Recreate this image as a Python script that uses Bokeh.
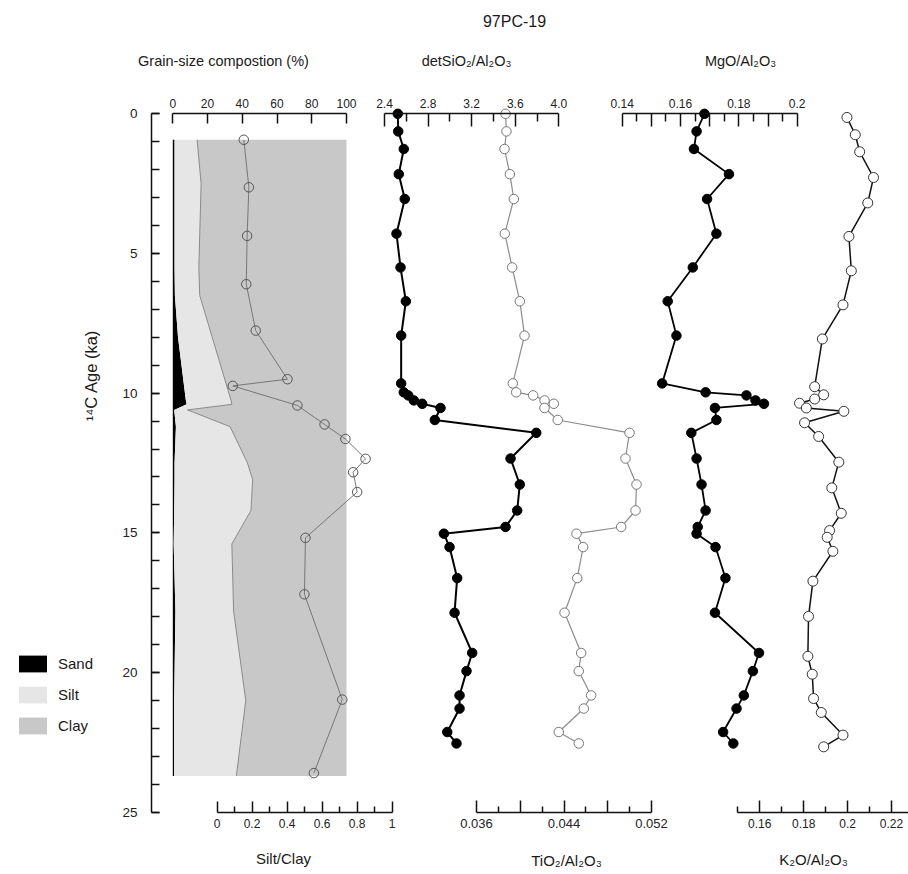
import math
from bokeh.plotting import figure
from bokeh.models import Range1d, LinearAxis, FixedTicker, Label, Legend, LegendItem
from bokeh.embed import file_html
from bokeh.resources import INLINE

W, H = 908, 874
FONT = "Liberation Sans"

# ---------------- data ----------------
# Grain-size composition (%) of core 97PC-19
grain_age = [0.93, 2.5, 5.5, 6.5, 8.0, 10.25, 10.4, 10.6, 11.2, 12.5, 13.1, 14.2, 15.4, 17.8, 21.0, 23.7]
sand_pct = [1.0, 1.0, 1.0, 1.2, 3.0, 7.5, 8.0, 0.8, 1.8, 1.0, 1.0, 0.8, 0.5, 1.5, 0.8, 0.8]
silt_pct = [13.0, 15.3, 14.0, 14.3, 19.7, 26.0, 26.0, 7.7, 31.2, 42.0, 45.0, 44.2, 33.5, 33.5, 41.2, 35.8]
clay_pct = [86.0, 83.7, 85.0, 84.5, 77.3, 66.5, 66.0, 91.5, 67.0, 57.0, 54.0, 55.0, 66.0, 65.0, 58.0, 63.4]

# Silt/Clay ratio
siltclay_age = [0.93, 2.63, 4.37, 6.1, 7.76, 9.5, 9.74, 10.44, 11.12, 11.64, 12.35, 12.83, 13.54, 15.18, 17.2, 20.97, 23.6]
siltclay = [0.153, 0.182, 0.172, 0.167, 0.221, 0.402, 0.090, 0.459, 0.614, 0.733, 0.848, 0.777, 0.800, 0.505, 0.499, 0.715, 0.553]

# Geochemical ratios (common sample ages)
geo_age = [0.0, 0.63, 1.26, 2.16, 3.05, 4.29, 5.5, 6.71, 7.94, 9.65, 9.97, 10.08, 10.26, 10.38, 10.53,
           10.96, 11.42, 12.34, 13.27, 14.2, 14.79, 15.03, 15.51, 16.62, 17.86, 19.3, 19.95, 20.82,
           21.29, 22.13, 22.54]
det_sio2 = [2.522, 2.526, 2.577, 2.531, 2.586, 2.510, 2.547, 2.596, 2.553, 2.553, 2.577, 2.618, 2.669,
            2.746, 2.914, 2.862, 3.793, 3.557, 3.642, 3.618, 3.511, 2.945, 2.997, 3.067, 3.043, 3.205,
            3.153, 3.089, 3.089, 2.976, 3.061]
tio2 = [0.03865, 0.03874, 0.03856, 0.03905, 0.03941, 0.03859, 0.03926, 0.03996, 0.04039, 0.03932,
        0.03963, 0.04118, 0.04222, 0.04307, 0.04222, 0.04343, 0.04999, 0.04962, 0.05063, 0.05054,
        0.04923, 0.04514, 0.04575, 0.04521, 0.04405, 0.04557, 0.04535, 0.04648, 0.04581, 0.04352,
        0.04535]
mgo = [0.1682, 0.1655, 0.1646, 0.1766, 0.1691, 0.1723, 0.1642, 0.1556, 0.1586, 0.1537, 0.1686,
       0.1826, 0.1857, 0.1886, 0.1718, 0.1723, 0.1637, 0.1655, 0.1672, 0.1686, 0.1659, 0.1655,
       0.1720, 0.1754, 0.1718, 0.1869, 0.1848, 0.1817, 0.1792, 0.1746, 0.1781]

k2o_age = [0.13, 0.75, 1.36, 2.28, 3.19, 4.39, 5.62, 6.84, 8.06, 9.77, 10.06, 10.21, 10.36, 10.53,
           10.65, 11.06, 11.55, 12.47, 13.39, 14.3, 14.92, 15.16, 15.66, 16.73, 17.99, 19.42, 20.06,
           20.93, 21.43, 22.24, 22.66]
k2o = [0.1997, 0.2035, 0.2055, 0.2118, 0.2092, 0.2006, 0.2017, 0.1979, 0.1885, 0.1850, 0.1891,
       0.1850, 0.1781, 0.1812, 0.1983, 0.1804, 0.1868, 0.1960, 0.1928, 0.1971, 0.1918, 0.1907,
       0.1933, 0.1842, 0.1822, 0.1819, 0.1839, 0.1845, 0.1880, 0.1979, 0.1891]

# tick values and labels
age_ticks = [0, 5, 10, 15, 20, 25]
age_minor = list(range(0, 26))
age_labels = ["0", "5", "10", "15", "20", "25"]
grain_ticks = [0, 20, 40, 60, 80, 100]
grain_labels = ["0", "20", "40", "60", "80", "100"]
sio2_ticks = [2.4, 2.8, 3.2, 3.6, 4]
sio2_minor = [2.6, 3.0, 3.4, 3.8]
sio2_labels = ["2.4", "2.8", "3.2", "3.6", "4.0"]
mgo_ticks = [0.14, 0.15, 0.16, 0.17, 0.18, 0.19, 0.2]
mgo_minor = [0.145, 0.155, 0.165, 0.175, 0.185, 0.195]
mgo_labels = ["0.14", "", "0.16", "", "0.18", "", "0.2"]
sc_ticks = [0, 0.2, 0.4, 0.6, 0.8, 1]
sc_minor = [0.1, 0.3, 0.5, 0.7, 0.9]
sc_labels = ["0", "0.2", "0.4", "0.6", "0.8", "1"]
ti_ticks = [0.036, 0.040, 0.044, 0.048, 0.052]
ti_minor = [0.038, 0.042, 0.046, 0.050]
ti_labels = ["0.036", "", "0.044", "", "0.052"]
k_ticks = [0.16, 0.18, 0.2, 0.22]
k_minor = [0.15, 0.17, 0.19, 0.21]
k_labels = ["0.16", "0.18", "0.2", "0.22"]

# ---------------- layout calibration (pixels) ----------------
Y0_PX, Y25_PX = 113.3, 811.7
KY = (Y25_PX - Y0_PX) / 25.0
Y_TOP = -Y0_PX / KY
Y_BOT = 25 + (H - Y25_PX) / KY
Y_AXIS_PX = 151


def xr(v_a, px_a, v_b, px_b):
    k = (px_b - px_a) / (v_b - v_a)
    return Range1d(v_a - px_a / k, v_a + (W - px_a) / k)


p = figure(width=W, height=H, x_range=Range1d(0, W), y_range=Range1d(Y_BOT, Y_TOP),
           x_axis_location=None, y_axis_location=None, toolbar_location=None,
           output_backend="svg", min_border=0, outline_line_color=None, title=None)
p.grid.grid_line_color = None
p.background_fill_color = "white"
p.border_fill_color = "white"

p.extra_x_ranges = {
    "grain": xr(0, 172.3, 100, 346.0),
    "sc": xr(0, 216.5, 1, 391.7),
    "si": xr(2.4, 384.0, 4.0, 558.3),
    "ti": xr(0.036, 476.0, 0.052, 651.0),
    "mg": xr(0.14, 621.7, 0.2, 796.7),
    "k": xr(0.16, 759.3, 0.22, 891.0),
}

# ---------------- grain-size stacked areas ----------------
n = len(grain_age)
cum_sand = list(sand_pct)
cum_silt = [a + b for a, b in zip(sand_pct, silt_pct)]
cum_clay = [a + b + c for a, b, c in zip(sand_pct, silt_pct, clay_pct)]
zeros = [0] * n

r_sand = p.harea(y=grain_age, x1=zeros, x2=cum_sand, fill_color="black", x_range_name="grain")
r_silt = p.harea(y=grain_age, x1=cum_sand, x2=cum_silt, fill_color="#e6e6e6", x_range_name="grain")
r_clay = p.harea(y=grain_age, x1=cum_silt, x2=cum_clay, fill_color="#c8c8c8", x_range_name="grain")
p.line(cum_silt, grain_age, line_color="#8a8a8a", line_width=1, x_range_name="grain")

# silt/clay ratio
p.line(siltclay, siltclay_age, x_range_name="sc", line_color="#777777", line_width=1)
p.scatter(siltclay, siltclay_age, x_range_name="sc", marker="circle", size=9.5,
          fill_color=None, line_color="#555555", line_width=1)

# detSiO2/Al2O3
p.line(det_sio2, geo_age, x_range_name="si", line_color="black", line_width=2)
p.scatter(det_sio2, geo_age, x_range_name="si", marker="circle", size=9.5,
          fill_color="black", line_color="black")

# TiO2/Al2O3
p.line(tio2, geo_age, x_range_name="ti", line_color="#8c8c8c", line_width=1.2)
p.scatter(tio2, geo_age, x_range_name="ti", marker="circle", size=9.5,
          fill_color="white", line_color="#777777", line_width=1)

# MgO/Al2O3
p.line(mgo, geo_age, x_range_name="mg", line_color="black", line_width=1.8)
p.scatter(mgo, geo_age, x_range_name="mg", marker="circle", size=9.5,
          fill_color="black", line_color="black")

# K2O/Al2O3
p.line(k2o, k2o_age, x_range_name="k", line_color="#111111", line_width=1.5)
p.scatter(k2o, k2o_age, x_range_name="k", marker="circle", size=10,
          fill_color="white", line_color="#333333", line_width=1)


# ---------------- axes ----------------
def add_axis(side, rname, ticks, minor, labels, bounds, loc, tin, mtin, standoff, fs="12px"):
    kw = dict(fixed_location=loc, bounds=bounds,
              ticker=FixedTicker(ticks=ticks, minor_ticks=minor),
              major_label_overrides={t: l for t, l in zip(ticks, labels)},
              major_tick_in=tin, major_tick_out=0, minor_tick_in=mtin, minor_tick_out=0,
              major_label_standoff=standoff, major_label_text_font=FONT,
              major_label_text_font_size=fs, major_label_text_color="#222222",
              axis_line_width=1.5, axis_line_color="#111111",
              major_tick_line_width=1.5, minor_tick_line_width=1.5,
              major_tick_line_color="#111111", minor_tick_line_color="#111111")
    if rname is not None:
        kw["x_range_name"] = rname
    ax = LinearAxis(**kw)
    p.add_layout(ax, side)
    return ax


k_end = p.extra_x_ranges["k"].end
add_axis("left", None, age_ticks, age_minor, age_labels, (0, 25), Y_AXIS_PX, 8, 8, 14, "13.5px")
add_axis("above", "grain", grain_ticks, [], grain_labels, (0, 100), 0, 10, 0, 6)
add_axis("above", "si", sio2_ticks, sio2_minor, sio2_labels, (2.4, 4.0), 0, 13, 8, 6)
add_axis("above", "mg", mgo_ticks, mgo_minor, mgo_labels, (0.14, 0.2), 0, 13, 8, 6)
add_axis("below", "sc", sc_ticks, sc_minor, sc_labels, (0, 1), 25, 11, 6, 7)
add_axis("below", "ti", ti_ticks, ti_minor, ti_labels, (0.036, 0.052), 25, 12, 6, 7, "13px")
add_axis("below", "k", k_ticks, k_minor, k_labels, (0.15, k_end), 25, 12, 6, 7)


# ---------------- texts ----------------
def text(s, x, y, size, angle=0.0):
    p.add_layout(Label(x=x, y=H - y, x_units="screen", y_units="screen", text=s,
                       text_font=FONT, text_font_size=size, text_color="#1a1a1a",
                       text_align="center", text_baseline="middle", angle=angle))


text("97PC-19", 514, 21, "16px")
text("Grain-size compostion (%)", 223, 60, "14.5px")
text("detSiO₂/Al₂O₃", 466, 60, "14.5px")
text("MgO/Al₂O₃", 740, 60, "14.5px")
text("Silt/Clay", 283, 858, "15px")
text("TiO₂/Al₂O₃", 566, 860, "15px")
text("K₂O/Al₂O₃", 813, 859, "15px")
text("¹⁴C Age (ka)", 90, 375, "16.5px", angle=math.pi / 2)

legend = Legend(items=[LegendItem(label="Sand", renderers=[r_sand]),
                       LegendItem(label="Silt", renderers=[r_silt]),
                       LegendItem(label="Clay", renderers=[r_clay])],
                location=(15, H - 736), orientation="vertical",
                glyph_width=35, glyph_height=21, label_height=21, spacing=10,
                padding=0, margin=0, label_standoff=8,
                label_text_font=FONT, label_text_font_size="15px", label_text_color="#1a1a1a",
                border_line_color=None, background_fill_alpha=0)
p.add_layout(legend)

open("out.html", "w").write(file_html(p, INLINE))
